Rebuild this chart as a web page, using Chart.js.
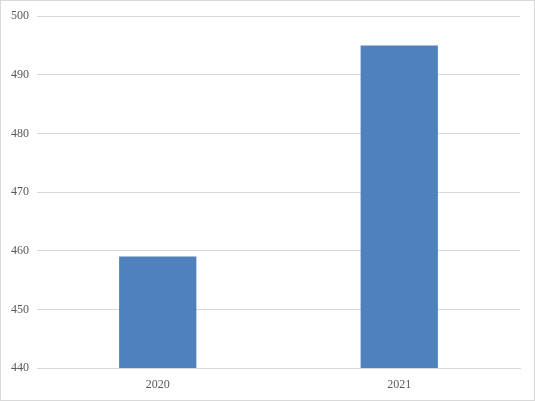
<!DOCTYPE html>
<html>
<head>
<meta charset="utf-8">
<script src="https://cdn.jsdelivr.net/npm/chart.js@4/dist/chart.umd.min.js"></script>
<style>
    html, body { margin: 0; padding: 0; background: #fff; }
    #box {
        width: 533px;
        height: 399px;
        border: 1px solid #d9d9d9;
        position: relative;
    }
</style>
</head>
<body>
<div id="box"><canvas id="myChart"></canvas></div>
<script>
// Data
const years = ['2020', '2021'];
const values = [459, 495];
const yTicks = [440, 450, 460, 470, 480, 490, 500];

function drawChart() {
    let ctx = document.getElementById('myChart');
    new Chart(ctx, {
        type: 'bar',
        data: {
            labels: years,
            datasets: [{
                data: values,
                backgroundColor: '#4f81bd',
                borderWidth: 0,
                barPercentage: 0.32,
                categoryPercentage: 1
            }]
        },
        options: {
            responsive: true,
            maintainAspectRatio: false,
            animation: false,
            layout: {
                padding: { left: 0, top: 14, right: 14, bottom: 0 }
            },
            plugins: {
                legend: { display: false },
                tooltip: { enabled: false }
            },
            scales: {
                x: {
                    grid: { display: false, drawTicks: false },
                    border: { display: true, color: '#d9d9d9' },
                    ticks: {
                        color: '#595959',
                        padding: 10,
                        font: { family: 'Liberation Serif', size: 12 }
                    },
                    afterFit: function (scale) { scale.height = 32; }
                },
                y: {
                    min: 440,
                    max: 500,
                    afterBuildTicks: function (scale) {
                        scale.ticks = yTicks.map(v => ({ value: v }));
                    },
                    grid: { color: '#d9d9d9', drawTicks: false },
                    border: { display: false },
                    ticks: {
                        color: '#595959',
                        padding: 8,
                        font: { family: 'Liberation Serif', size: 12 }
                    },
                    afterFit: function (scale) { scale.width = 36; }
                }
            }
        }
    });
}

document.addEventListener('DOMContentLoaded', drawChart);
</script>
</body>
</html>
